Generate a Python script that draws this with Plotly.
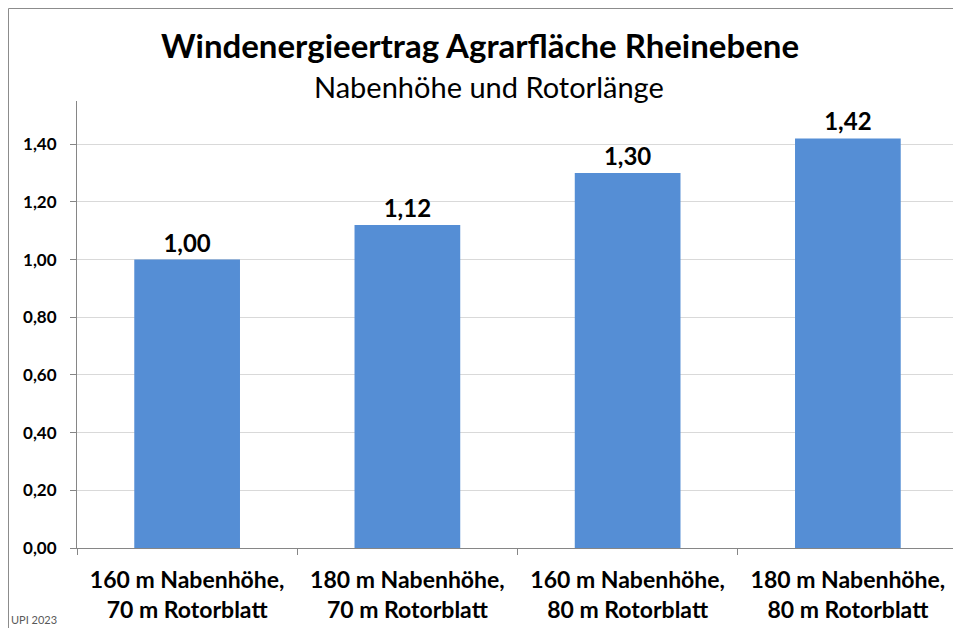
import plotly.graph_objects as go

categories = ["160 m Nabenhöhe,<br>70 m Rotorblatt",
              "180 m Nabenhöhe,<br>70 m Rotorblatt",
              "160 m Nabenhöhe,<br>80 m Rotorblatt",
              "180 m Nabenhöhe,<br>80 m Rotorblatt"]
values = [1.00, 1.12, 1.30, 1.42]
y_ticks = [0, 0.2, 0.4, 0.6, 0.8, 1.0, 1.2, 1.4]

FONT = "Lato"
OFF = 8  # page body margin
W, H = 961, 628
# plot area in page pixels: x 77..958, y 101..548
L, T = 77 - OFF, 101 - OFF
R = W - (958 - OFF)
B = H - (548 - OFF)
pw, ph = W - L - R, H - T - B

def px(x):
    return (x - OFF - L) / pw

def py(y):
    return (H - B - (y - OFF)) / ph

fig = go.Figure(go.Bar(
    x=categories, y=values,
    marker=dict(color="#558ED5", line=dict(width=0)),
    texttemplate="%{y:.2f}", textposition="outside",
    textfont=dict(family=FONT, size=24, color="#000000", weight="bold"),
    cliponaxis=False, width=0.48,
))

fig.update_layout(
    width=W, height=H,
    margin=dict(l=L, r=R, t=T, b=B, autoexpand=False),
    paper_bgcolor="white", plot_bgcolor="white",
    separators=",.",
    showlegend=False,
    font=dict(family=FONT, color="#000000"),
)
fig.update_yaxes(
    range=[0, 1.55], tickvals=y_ticks, tickformat=".2f",
    showgrid=True, gridcolor="#D9D9D9", gridwidth=1,
    showline=True, linecolor="#868686", linewidth=1,
    ticks="outside", ticklen=6, tickcolor="#868686",
    tickfont=dict(family=FONT, size=17, color="#000000", weight="bold"),
    ticklabelstandoff=10, zeroline=False, automargin=False,
)
fig.update_xaxes(
    showline=True, linecolor="#868686", linewidth=1,
    ticks="outside", ticklen=6, tickcolor="#868686", tickson="boundaries",
    tickfont=dict(family=FONT, size=23, color="#000000", weight="bold"),
    ticklabelstandoff=11, automargin=False,
)

fig.add_annotation(text="<b>Windenergieertrag Agrarfläche Rheinebene</b>",
                   xref="paper", yref="paper", x=px(480), y=py(45),
                   xanchor="center", yanchor="middle", showarrow=False,
                   font=dict(family=FONT, size=33, color="#000000"))
fig.add_annotation(text="Nabenhöhe und Rotorlänge",
                   xref="paper", yref="paper", x=px(489), y=py(87),
                   xanchor="center", yanchor="middle", showarrow=False,
                   font=dict(family=FONT, size=29, color="#000000"))
fig.add_annotation(text="UPI 2023",
                   xref="paper", yref="paper", x=px(9), y=py(619),
                   xanchor="left", yanchor="middle", showarrow=False,
                   font=dict(family=FONT, size=11, color="#595959"))

# outer chart frame (top and left edges)
fig.add_shape(type="line", xref="paper", yref="paper",
              x0=px(8.5), x1=px(970), y0=py(8.5), y1=py(8.5),
              line=dict(color="#8C8C8C", width=1))
fig.add_shape(type="line", xref="paper", yref="paper",
              x0=px(8.5), x1=px(8.5), y0=py(8.5), y1=py(640),
              line=dict(color="#8C8C8C", width=1))

fig.write_html("out.html")
